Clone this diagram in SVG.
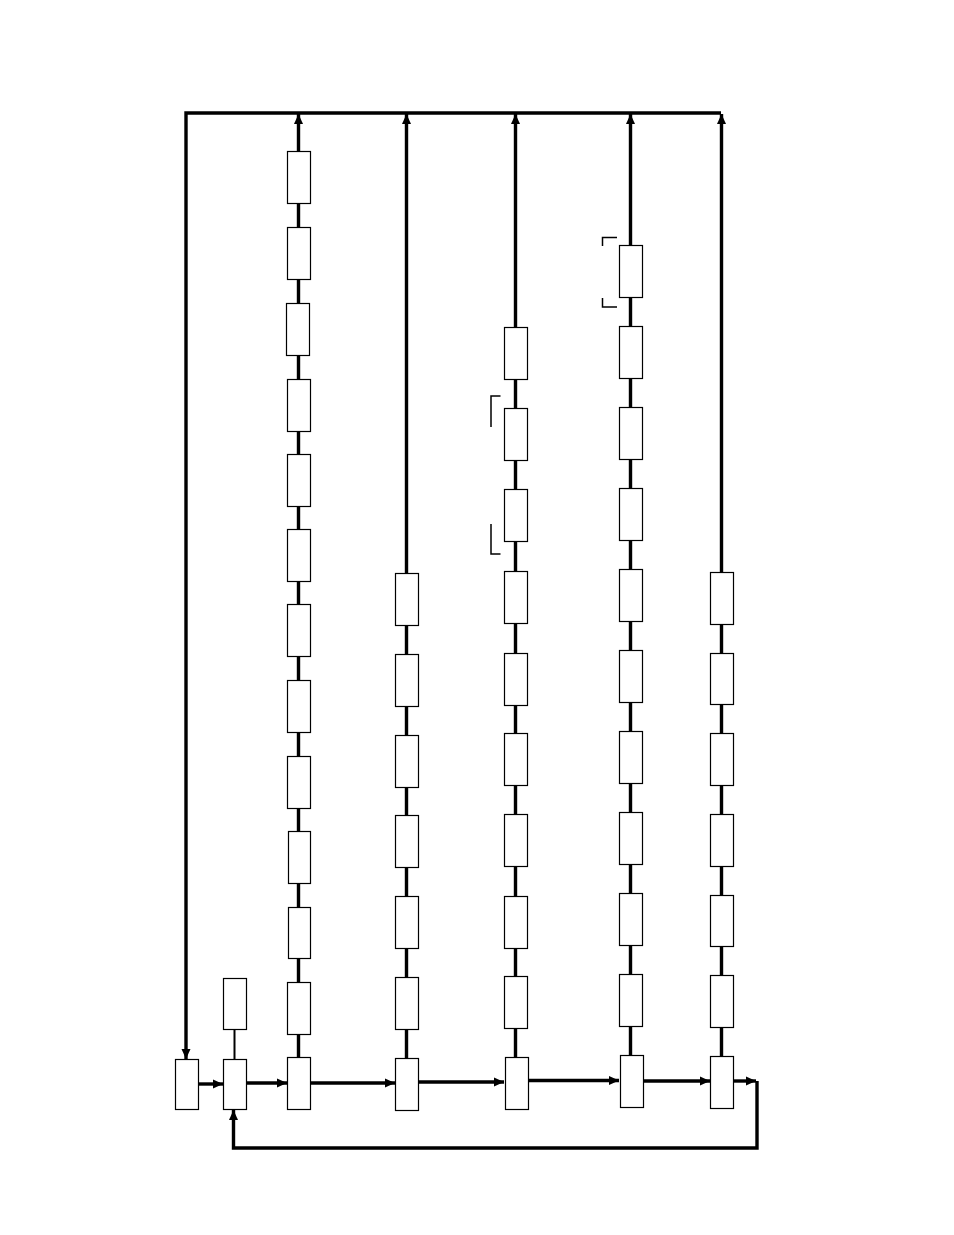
<svg xmlns="http://www.w3.org/2000/svg" width="954" height="1235" viewBox="0 0 954 1235">
<style>
.box{fill:#fff;stroke:#000;stroke-width:1.2}
.w{fill:none;stroke:#000;stroke-width:3.4}
.t{fill:none;stroke:#000;stroke-width:2}
.br{fill:none;stroke:#000;stroke-width:1.5}
</style>
<defs>
<marker id="ah" markerUnits="userSpaceOnUse" markerWidth="10" markerHeight="10" viewBox="0 0 10 10" refX="10" refY="5" orient="auto">
<path d="M0,0.5 L10,5 L0,9.5 z" fill="#000"/>
</marker>
</defs>
<rect width="954" height="1235" fill="#fff"/>
<g id="connectors">
<polyline class="w" points="721,113 186,113 186,1059" marker-end="url(#ah)"/>
<line class="w" x1="298.5" y1="1057" x2="298.5" y2="114" marker-end="url(#ah)"/>
<line class="w" x1="406.5" y1="1058" x2="406.5" y2="114" marker-end="url(#ah)"/>
<line class="w" x1="515.5" y1="1057" x2="515.5" y2="114" marker-end="url(#ah)"/>
<line class="w" x1="630.5" y1="1055" x2="630.5" y2="114" marker-end="url(#ah)"/>
<line class="w" x1="721.5" y1="1056" x2="721.5" y2="114" marker-end="url(#ah)"/>
<line class="t" x1="234.5" y1="1029" x2="234.5" y2="1059"/>
<line class="w" x1="198" y1="1084" x2="223" y2="1084" marker-end="url(#ah)"/>
<line class="w" x1="246" y1="1083" x2="287" y2="1083" marker-end="url(#ah)"/>
<line class="w" x1="310" y1="1083" x2="395" y2="1083" marker-end="url(#ah)"/>
<line class="w" x1="418" y1="1082" x2="504" y2="1082" marker-end="url(#ah)"/>
<line class="w" x1="527" y1="1080.5" x2="619" y2="1080.5" marker-end="url(#ah)"/>
<line class="w" x1="642" y1="1081" x2="710" y2="1081" marker-end="url(#ah)"/>
<line class="w" x1="733" y1="1081" x2="756" y2="1081" marker-end="url(#ah)"/>
<polyline class="w" stroke="#222" points="757,1081 757,1148 233.5,1148 233.5,1110" marker-end="url(#ah)"/>
</g>
<g id="brackets">
<polyline class="br" points="500.5,396 491,396 491,427"/>
<polyline class="br" points="491,524 491,554 500.5,554"/>
<polyline class="br" points="617,237.5 602.5,237.5 602.5,246"/>
<polyline class="br" points="602.5,298 602.5,307 617,307"/>
</g>
<g id="colA"><rect class="box" x="175.5" y="1059.5" width="23" height="50"/></g>
<g id="colB">
<rect class="box" x="223.5" y="978.5" width="23" height="51"/>
<rect class="box" x="223.5" y="1059.5" width="23" height="50"/>
</g>
<g id="colC">
<rect class="box" x="287.5" y="151.5" width="23" height="52"/>
<rect class="box" x="287.5" y="227.5" width="23" height="52"/>
<rect class="box" x="286.5" y="303.5" width="23" height="52"/>
<rect class="box" x="287.5" y="379.5" width="23" height="52"/>
<rect class="box" x="287.5" y="454.5" width="23" height="52"/>
<rect class="box" x="287.5" y="529.5" width="23" height="52"/>
<rect class="box" x="287.5" y="604.5" width="23" height="52"/>
<rect class="box" x="287.5" y="680.5" width="23" height="52"/>
<rect class="box" x="287.5" y="756.5" width="23" height="52"/>
<rect class="box" x="288.5" y="831.5" width="22" height="52"/>
<rect class="box" x="288.5" y="907.5" width="22" height="51"/>
<rect class="box" x="287.5" y="982.5" width="23" height="52"/>
<rect class="box" x="287.5" y="1057.5" width="23" height="52"/>
</g>
<g id="colD">
<rect class="box" x="395.5" y="573.5" width="23" height="52"/>
<rect class="box" x="395.5" y="654.5" width="23" height="52"/>
<rect class="box" x="395.5" y="735.5" width="23" height="52"/>
<rect class="box" x="395.5" y="815.5" width="23" height="52"/>
<rect class="box" x="395.5" y="896.5" width="23" height="52"/>
<rect class="box" x="395.5" y="977.5" width="23" height="52"/>
<rect class="box" x="395.5" y="1058.5" width="23" height="52"/>
</g>
<g id="colE">
<rect class="box" x="504.5" y="327.5" width="23" height="52"/>
<rect class="box" x="504.5" y="408.5" width="23" height="52"/>
<rect class="box" x="504.5" y="489.5" width="23" height="52"/>
<rect class="box" x="504.5" y="571.5" width="23" height="52"/>
<rect class="box" x="504.5" y="653.5" width="23" height="52"/>
<rect class="box" x="504.5" y="733.5" width="23" height="52"/>
<rect class="box" x="504.5" y="814.5" width="23" height="52"/>
<rect class="box" x="504.5" y="896.5" width="23" height="52"/>
<rect class="box" x="504.5" y="976.5" width="23" height="52"/>
<rect class="box" x="505.5" y="1057.5" width="23" height="52"/>
</g>
<g id="colF">
<rect class="box" x="619.5" y="245.5" width="23" height="52"/>
<rect class="box" x="619.5" y="326.5" width="23" height="52"/>
<rect class="box" x="619.5" y="407.5" width="23" height="52"/>
<rect class="box" x="619.5" y="488.5" width="23" height="52"/>
<rect class="box" x="619.5" y="569.5" width="23" height="52"/>
<rect class="box" x="619.5" y="650.5" width="23" height="52"/>
<rect class="box" x="619.5" y="731.5" width="23" height="52"/>
<rect class="box" x="619.5" y="812.5" width="23" height="52"/>
<rect class="box" x="619.5" y="893.5" width="23" height="52"/>
<rect class="box" x="619.5" y="974.5" width="23" height="52"/>
<rect class="box" x="620.5" y="1055.5" width="23" height="52"/>
</g>
<g id="colG">
<rect class="box" x="710.5" y="572.5" width="23" height="52"/>
<rect class="box" x="710.5" y="653.5" width="23" height="51"/>
<rect class="box" x="710.5" y="733.5" width="23" height="52"/>
<rect class="box" x="710.5" y="814.5" width="23" height="52"/>
<rect class="box" x="710.5" y="895.5" width="23" height="51"/>
<rect class="box" x="710.5" y="975.5" width="23" height="52"/>
<rect class="box" x="710.5" y="1056.5" width="23" height="52"/>
</g>
</svg>
